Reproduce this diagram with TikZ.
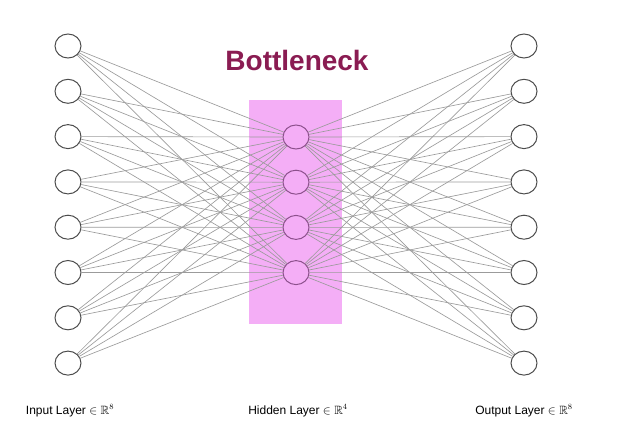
\documentclass[tikz,border=0pt]{standalone}
\usepackage{amssymb}
\usepackage{fontspec}
\setmainfont{Liberation Sans}
\usetikzlibrary{shapes.geometric}

\definecolor{bnpink}{RGB}{244,174,246}
\definecolor{bnmaroon}{RGB}{138,28,82}
\definecolor{edgegray}{RGB}{155,155,155}
\definecolor{hidring}{RGB}{140,80,140}

\begin{document}
\begin{tikzpicture}[x=1pt,y=-1pt,
	neuron/.style={ellipse, draw=black!70, line width=1pt, fill=white, minimum width=26pt, minimum height=24pt, inner sep=0pt},
	hidneuron/.style={neuron, draw=hidring, fill=bnpink},
	link/.style={draw=edgegray, line width=0.65pt},
	layerlabel/.style={font=\fontsize{12}{14}\selectfont, anchor=base}]
			\useasboundingbox (0,0) rectangle (621,424);
			% bottleneck band
			\node[fill=bnpink, minimum width=93pt, minimum height=224pt, inner sep=0pt] (bneck) at (295.5,212) {};
			\node[font=\fontsize{28}{32}\selectfont\bfseries, text=bnmaroon] (title) at (297,60) {Bottleneck};
			% layers
			\foreach \i in {1,...,8} {
				\node[neuron] (in\i) at (68,{46+45.3*(\i-1)}) {};
				\node[neuron] (out\i) at (524,{46+45.3*(\i-1)}) {};
			}
			\foreach \j in {1,...,4}
				\node[hidneuron] (hid\j) at (296,{137+45.2*(\j-1)}) {};
			% weights
			\foreach \i in {1,...,8}
				\foreach \j in {1,...,4} {
					\draw[link] (in\i) -- (hid\j);
					\draw[link] (hid\j) -- (out\i);
				}
			\node[layerlabel] (inlab) at (70,414) {Input Layer $\in\mathbb{R}^8$};
			\node[layerlabel] (hidlab) at (298,414) {Hidden Layer $\in\mathbb{R}^4$};
			\node[layerlabel] (outlab) at (524,414) {Output Layer $\in\mathbb{R}^8$};
		\end{tikzpicture}
\end{document}
